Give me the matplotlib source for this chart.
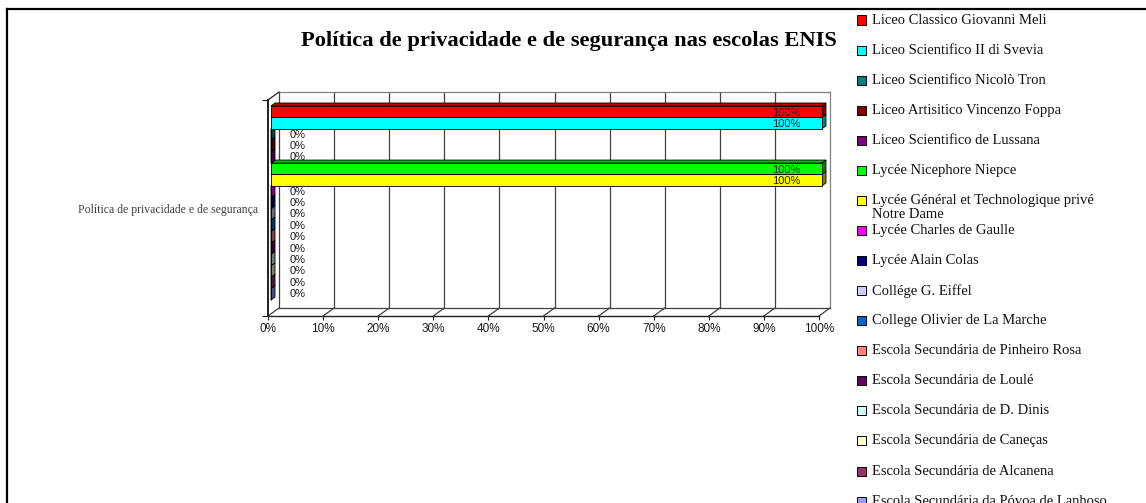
import matplotlib
matplotlib.use('Agg')
import matplotlib.pyplot as plt
from matplotlib.patches import Polygon, Rectangle
from matplotlib.lines import Line2D
import matplotlib.colors as mcolors

title = "Política de privacidade e de segurança nas escolas ENIS"
category = "Política de privacidade e de segurança"
schools = [
    "Liceo Classico Giovanni Meli",
    "Liceo Scientifico II di Svevia",
    "Liceo Scientifico Nicolò Tron",
    "Liceo Artisitico Vincenzo Foppa",
    "Liceo Scientifico de Lussana",
    "Lycée Nicephore Niepce",
    "Lycée Général et Technologique privé\nNotre Dame",
    "Lycée Charles de Gaulle",
    "Lycée Alain Colas",
    "Collége G. Eiffel",
    "College Olivier de La Marche",
    "Escola Secundária de Pinheiro Rosa",
    "Escola Secundária de Loulé",
    "Escola Secundária de D. Dinis",
    "Escola Secundária de Caneças",
    "Escola Secundária de Alcanena",
    "Escola Secundária da Póvoa de Lanhoso",
]
values = [100, 100, 0, 0, 0, 100, 100, 0, 0, 0, 0, 0, 0, 0, 0, 0, 0]
colors = ["#FF0000", "#00FFFF", "#008080", "#800000", "#800080", "#00FF00",
          "#FFFF00", "#FF00FF", "#000080", "#CCCCFF", "#0066CC", "#FF8080",
          "#660066", "#CCFFFF", "#FFFFCC", "#993366", "#9999FF"]
x_ticks = [0, 10, 20, 30, 40, 50, 60, 70, 80, 90, 100]
x_tick_labels = [f"{t}%" for t in x_ticks]

SERIF = ["Liberation Serif", "DejaVu Serif"]
SANS = ["Liberation Sans", "DejaVu Sans"]

W, H = 1146, 503
fig = plt.figure(figsize=(W / 100, H / 100), dpi=100)
fig.patch.set_facecolor("white")


def fx(px):
    return px / W


def fy(py):
    return 1 - py / H


# plot (front plane) in pixels
L, R, T, B = 268, 819, 100, 316
ax = fig.add_axes([fx(L), fy(B), fx(R) - fx(L), fy(T) - fy(B)])
n = len(schools)
slot_px = 11.41
ytop = -8 / slot_px
ybot = n + 14 / slot_px
ax.set_xlim(0, 100)
ax.set_ylim(ybot, ytop)
ax.patch.set_alpha(0)
ppx = (R - L) / 100.0
ppy = slot_px


def off(x, y, dx, dy):
    return (x + dx / ppx, y - dy / ppy)


DX, DY = 11, 8.0      # back wall offset
BX, BY = 3, 2         # bar front offset
EX, EY = 4, 3         # bar depth

grid_c = "#404040"
frame_c = "#808080"
# back wall gridlines
for t in x_ticks:
    p0 = off(t, ybot, DX, DY)
    p1 = off(t, ytop, DX, DY)
    ax.add_line(Line2D([p0[0], p1[0]], [p0[1], p1[1]], color=grid_c if t != 100 else frame_c,
                       lw=0.9, clip_on=False, zorder=1))
    # floor diagonals
    ax.add_line(Line2D([t, p0[0]], [ybot, p0[1]], color=grid_c, lw=0.9, clip_on=False, zorder=1))
# back wall top & floor back edge
for yy, col in ((ytop, frame_c), (ybot, grid_c)):
    a = off(0, yy, DX, DY)
    b = off(100, yy, DX, DY)
    ax.add_line(Line2D([a[0], b[0]], [a[1], b[1]], color=col, lw=0.9, clip_on=False, zorder=1))
# left wall top diagonal
a = off(0, ytop, DX, DY)
ax.add_line(Line2D([0, a[0]], [ytop, a[1]], color="#202020", lw=0.9, clip_on=False, zorder=1))


def shade(c, f):
    r, g, b = mcolors.to_rgb(c)
    return (r * f, g * f, b * f)


# bars, drawn bottom first
for i in range(n - 1, -1, -1):
    v = values[i]
    c = colors[i]
    z = 10 + (n - i) * 3
    front = [off(0, i, BX, BY), off(v, i, BX, BY), off(v, i + 1, BX, BY), off(0, i + 1, BX, BY)]
    top = [off(0, i, BX, BY), off(v, i, BX, BY), off(v, i, BX + EX, BY + EY), off(0, i, BX + EX, BY + EY)]
    right = [off(v, i, BX, BY), off(v, i, BX + EX, BY + EY), off(v, i + 1, BX + EX, BY + EY),
             off(v, i + 1, BX, BY)]
    ax.add_patch(Polygon(top, closed=True, facecolor=shade(c, 0.75), edgecolor="black", lw=0.6,
                         clip_on=False, zorder=z))
    ax.add_patch(Polygon(right, closed=True, facecolor=shade(c, 0.5), edgecolor="black", lw=0.6,
                         clip_on=False, zorder=z + 1))
    ax.add_patch(Polygon(front, closed=True, facecolor=c, edgecolor="black", lw=0.6,
                         clip_on=False, zorder=z + 2))

# value labels
for i, v in enumerate(values):
    if v > 0:
        x, y = off(v, i + 0.5, BX - 22, BY - 1)
        ha = "right"
    else:
        x, y = off(v, i + 0.5, 22, BY)
        ha = "left"
    ax.text(x, y, f"{v}%", ha=ha, va="center", fontsize=8.0, family=SANS, color="#1a1a1a",
            zorder=200, clip_on=False)

# axes styling
for s in ("top", "right"):
    ax.spines[s].set_visible(False)
ax.spines["left"].set_color("#202020")
ax.spines["left"].set_linewidth(1.4)
ax.spines["bottom"].set_color("#202020")
ax.spines["bottom"].set_linewidth(1.0)
ax.set_xticks(x_ticks)
ax.set_xticklabels(x_tick_labels, family=SANS, fontsize=8.5, color="#1a1a1a")
ax.tick_params(axis="x", length=3, width=0.8, pad=2, color="#202020")
ax.set_yticks([(ytop + ybot) / 2])
ax.set_yticklabels([category], family=SERIF, fontsize=8.5, color="#404040")
ax.tick_params(axis="y", length=0, pad=7)
ax.set_yticks([ytop, ybot], minor=True)
ax.tick_params(axis="y", which="minor", length=4, width=0.8, color="#202020")

# title
fig.text(fx(569), fy(41), title, ha="center", va="center", fontsize=16.2, fontweight="bold",
         family=SERIF, color="black")

# legend
for i, (name, c) in enumerate(zip(schools, colors)):
    yc = 20 + 30.07 * i
    fig.add_artist(Rectangle((fx(857), fy(yc + 4.5)), 9 / W, 9 / H, transform=fig.transFigure,
                             facecolor=c, edgecolor="black", lw=0.7))
    fig.text(fx(872), fy(yc - 6.5), name, ha="left", va="top", fontsize=10.5, family=SERIF,
             color="#111111", linespacing=1.1)

# outer frame (cropped chart border)
fig.add_artist(Line2D([fx(7), fx(7)], [fy(9), -0.1], transform=fig.transFigure, color="black", lw=1.6))
fig.add_artist(Line2D([fx(7), 1.1], [fy(9), fy(9)], transform=fig.transFigure, color="black", lw=1.6))

fig.savefig("out.png", dpi=100, facecolor="white")
